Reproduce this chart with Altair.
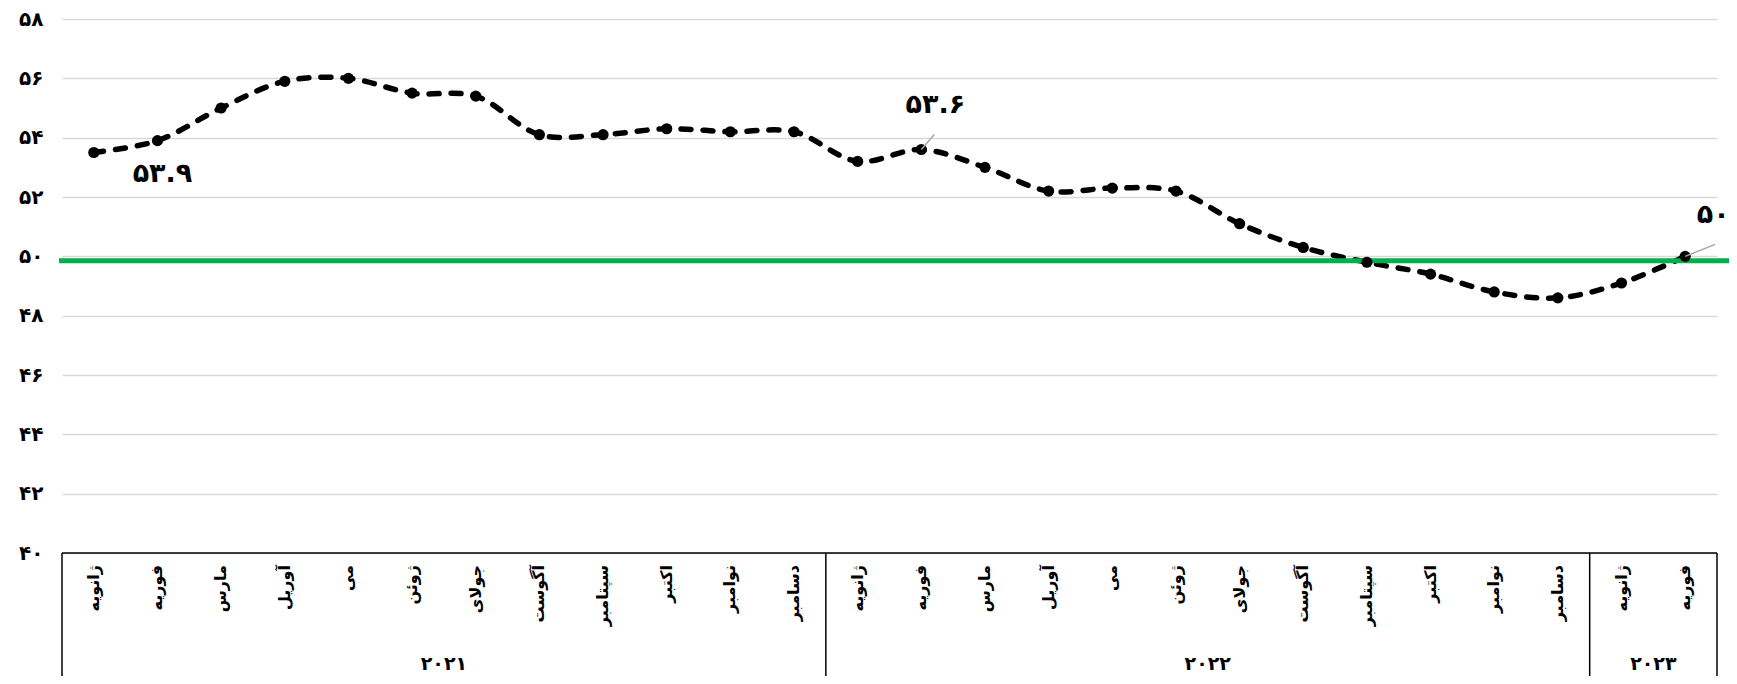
import altair as alt
import pandas as pd

# ---------------- data ----------------
month_labels = [
    "ژانویه", "فوریه", "مارس", "آوریل", "می", "ژوئن", "جولای", "آگوست", "سپتامبر", "اکتبر", "نوامبر", "دسامبر",
    "ژانویه", "فوریه", "مارس", "آوریل", "می", "ژوئن", "جولای", "آگوست", "سپتامبر", "اکتبر", "نوامبر", "دسامبر",
    "ژانویه", "فوریه",
]
pmi_values = [
    53.5, 53.9, 55.0, 55.9, 56.0, 55.5, 55.4, 54.1, 54.1, 54.3, 54.2, 54.2,
    53.2, 53.6, 53.0, 52.2, 52.3, 52.2, 51.1, 50.3, 49.8, 49.4, 48.8, 48.6,
    49.1, 50.0,
]
year_labels = ["۲۰۲۱", "۲۰۲۲", "۲۰۲۳"]
year_counts = [12, 12, 2]
y_ticks = [40, 42, 44, 46, 48, 50, 52, 54, 56, 58]
y_tick_labels = ["۴۰", "۴۲", "۴۴", "۴۶", "۴۸", "۵۰", "۵۲", "۵۴", "۵۶", "۵۸"]
threshold = 49.85
callout_index = [1, 13, 25]
callout_text = ["۵۳.۹", "۵۳.۶", "۵۰"]

# ---------------- tables ----------------
df = pd.DataFrame({"i": list(range(len(pmi_values))), "month": month_labels, "pmi": pmi_values})

centers, bounds = [], [-0.5]
start = 0
for c in year_counts:
    centers.append(start + (c - 1) / 2)
    start += c
    bounds.append(start - 0.5)
years_df = pd.DataFrame({"year": year_labels, "center": centers})
bounds_df = pd.DataFrame({"b": bounds})
top_df = pd.DataFrame({"x0": [bounds[0]], "x1": [bounds[-1]], "y": [y_ticks[0]]})
thr_df = pd.DataFrame({"t": [threshold]})
call_df = pd.DataFrame({
    "i": callout_index,
    "pmi": [pmi_values[k] for k in callout_index],
    "txt": callout_text,
})

FONT = "DejaVu Sans"
W, H = 1655, 534
PAD = {"left": 54, "top": 11, "right": 12, "bottom": 123}

x_scale = alt.Scale(domain=[bounds[0], bounds[-1]], nice=False, zero=False)
y_scale = alt.Scale(domain=[y_ticks[0], y_ticks[-1]], nice=False, zero=False)

label_expr = (
    "[" + ",".join(f"'{t}'" for t in y_tick_labels) + "]"
    + "[indexof([" + ",".join(str(v) for v in y_ticks) + "], datum.value)]"
)

X = alt.X("i:Q", scale=x_scale, axis=None)
Y = alt.Y(
    "pmi:Q",
    scale=y_scale,
    axis=alt.Axis(
        values=y_ticks, labelExpr=label_expr, grid=True, gridColor="#d9d9d9", gridWidth=1.5,
        domain=False, ticks=False, labelFont=FONT, labelFontSize=20, labelFontWeight="bold",
        labelColor="black", labelPadding=19, title=None,
    ),
)

base = alt.Chart(df)

line = base.mark_line(
    color="black", strokeWidth=5.5, strokeDash=[10, 12], strokeCap="round", interpolate="catmull-rom"
).encode(x=X, y=Y)

points = base.mark_point(filled=True, color="black", size=125, opacity=1, shape="circle").encode(
    x=alt.X("i:Q", scale=x_scale, axis=None), y=alt.Y("pmi:Q", scale=y_scale)
)

green = alt.Chart(thr_df).mark_rule(color="#00b050", strokeWidth=5).encode(
    y=alt.Y("t:Q", scale=y_scale), x=alt.value(-3), x2=alt.value(W + 20)
)

month_text = base.mark_text(
    angle=270, align="right", baseline="middle", font=FONT, fontSize=16, fontWeight="bold", color="black"
).encode(x=alt.X("i:Q", scale=x_scale, axis=None), y=alt.value(H + 12), text="month:N")

year_text = alt.Chart(years_df).mark_text(
    align="center", baseline="middle", font=FONT, fontSize=19, fontWeight="bold", color="black"
).encode(x=alt.X("center:Q", scale=x_scale, axis=None), y=alt.value(H + 111), text="year:N")

separators = alt.Chart(bounds_df).mark_rule(color="black", strokeWidth=1.5).encode(
    x=alt.X("b:Q", scale=x_scale, axis=None), y=alt.value(H), y2=alt.value(H + PAD["bottom"])
)

top_line = alt.Chart(top_df).mark_rule(color="black", strokeWidth=1.5).encode(
    x=alt.X("x0:Q", scale=x_scale, axis=None), x2="x1:Q", y=alt.Y("y:Q", scale=y_scale)
)

def callout(k, dx, dy):
    return alt.Chart(call_df).transform_filter(alt.datum.i == callout_index[k]).mark_text(
        font=FONT, fontSize=27, fontWeight="bold", color="black", dx=dx, dy=dy,
        align="center", baseline="middle",
    ).encode(x=alt.X("i:Q", scale=x_scale, axis=None), y=alt.Y("pmi:Q", scale=y_scale), text="txt:N")

def leader(k, ox, oy):
    return alt.Chart(call_df).transform_filter(alt.datum.i == callout_index[k]).mark_rule(
        color="#a6a6a6", strokeWidth=1.5, x2Offset=ox, y2Offset=oy,
    ).encode(
        x=alt.X("i:Q", scale=x_scale, axis=None), y=alt.Y("pmi:Q", scale=y_scale),
        x2="i:Q", y2="pmi:Q",
    )

chart = alt.layer(
    line, green, points, leader(1, 13, -15), leader(2, 30, -12),
    callout(0, 5, 33), callout(1, 14, -45), callout(2, 28, -41),
    month_text, year_text, separators, top_line,
).properties(
    width=W, height=H, autosize=alt.AutoSizeParams(type="none"), padding=PAD,
).configure_view(stroke=None)

chart.save("out.html", embed_options={"renderer": "svg", "actions": False})
